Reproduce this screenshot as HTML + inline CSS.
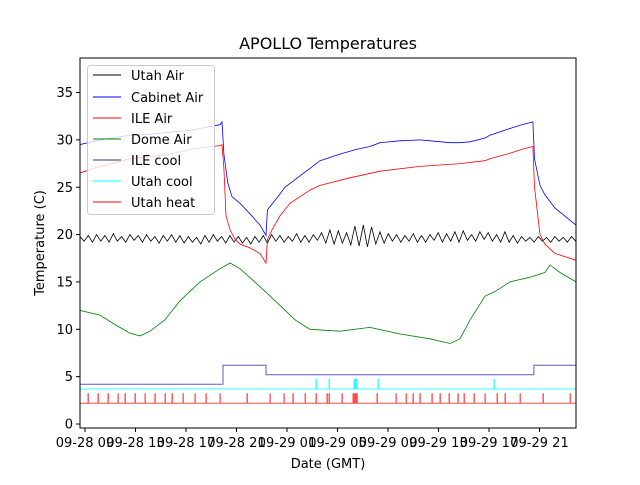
<!DOCTYPE html>
<html><head><meta charset="utf-8"><style>
body{margin:0;background:#fff}
svg text{font-family:"DejaVu Sans","Liberation Sans",sans-serif;fill:#000}
</style></head><body>
<svg id="c" width="640" height="480"></svg>
<script>
const xTickHours=[9,13,17,21,25,29,33,37,41,45];
const xTickLabels=["09-28 09","09-28 13","09-28 17","09-28 21","09-29 01","09-29 05","09-29 09","09-29 13","09-29 17","09-29 21"];
const yTicks=[0,5,10,15,20,25,30,35];
const cabinetT=[8.6,10.19,12.56,14.15,17.32,19.69,19.85,20.0,20.3,20.64,21.28,22.07,22.86,23.34,23.45,24.45,24.84,25.63,26.82,27.61,29.2,30.5,31.57,32.37,33.95,35.53,36.33,37.91,38.7,39.5,40.68,41.08,42.66,43.6,44.48,44.6,45.04,45.43,46.23,47.89];
const cabinetV=[29.5,30.0,30.5,30.6,31.0,31.6,31.9,28.5,25.5,24.0,23.3,22.2,21.0,19.9,22.6,24.3,25.0,25.8,27.0,27.8,28.5,29.0,29.3,29.7,29.9,30.0,29.9,29.7,29.7,29.8,30.2,30.5,31.2,31.6,31.9,28.0,25.2,24.2,22.8,21.0];
const ileT=[8.6,10.19,12.56,15.34,17.32,19.69,19.85,20.0,20.17,20.49,20.88,21.28,22.07,22.86,23.34,23.45,23.81,24.45,25.24,26.82,27.61,29.99,32.37,35.53,38.7,40.68,41.08,42.66,43.6,44.48,44.6,45.04,45.43,46.23,47.89];
const ileV=[26.5,27.2,28.0,28.4,29.0,29.4,29.5,27.0,22.0,20.5,19.5,19.0,18.6,18.0,17.0,19.5,20.5,22.0,23.3,24.7,25.2,26.0,26.7,27.2,27.5,27.8,28.0,28.6,29.0,29.3,25.0,20.0,19.0,18.0,17.3];
const utahStart=8.6, utahStep=0.33;
const utahV=[19.8,19.3,19.9,19.2,20.0,19.3,19.9,19.2,20.1,19.3,19.8,19.2,20.0,19.4,19.9,19.2,20.0,19.3,19.8,19.1,19.9,19.3,20.0,19.2,19.9,19.1,19.8,19.2,19.7,19.0,19.9,19.2,20.0,19.3,19.8,19.1,19.9,19.2,19.8,19.1,19.7,19.0,19.8,19.2,19.9,19.1,20.0,19.3,19.9,19.2,19.8,19.3,20.1,19.2,19.9,19.2,20.0,19.4,20.2,19.1,20.5,19.0,20.4,19.1,20.2,18.9,20.9,18.8,21.0,18.7,20.8,19.0,20.3,19.1,20.1,19.3,20.0,19.2,19.9,19.3,20.1,19.2,19.9,19.2,20.0,19.4,20.2,19.2,20.1,19.3,20.3,19.2,20.4,19.4,20.0,19.3,20.3,19.5,20.2,19.3,20.0,19.2,20.3,19.2,19.9,19.1,19.8,19.3,19.7,19.2,19.8,19.3,19.7,19.2,19.8,19.3,19.7,19.2,19.8,19.3];
const domeT=[8.6,10.19,11.38,12.56,13.36,14.15,15.34,16.52,18.11,19.69,20.49,21.28,22.86,24.45,25.63,26.82,29.2,31.57,33.95,36.33,37.91,38.7,39.5,40.68,41.48,42.66,44.25,45.43,45.83,46.62,47.89];
const domeV=[12.0,11.5,10.5,9.6,9.3,9.8,11.0,13.0,15.0,16.4,17.0,16.4,14.5,12.5,11.0,10.0,9.8,10.2,9.5,9.0,8.5,9.0,11.0,13.5,14.0,15.0,15.5,16.0,16.8,16.0,15.0];
const iceT=[8.6,19.93,19.93,23.34,23.34,44.56,44.56,47.89];
const iceV=[4.2,4.2,6.2,6.2,5.2,5.2,6.2,6.2];
const coolBase=3.7, coolSpikeV=4.7;
const coolSpikes=[27.3,28.33,30.3,30.39,30.47,30.54,32.21,41.4];
const heatBase=2.2, heatSpikeV=3.2;
const heatSpikes=[9.24,10.03,10.82,11.61,12.17,12.96,13.75,14.54,15.34,15.89,16.76,17.71,18.58,19.69,21.83,23.65,24.76,25.47,26.43,27.3,28.17,28.33,29.36,30.23,30.31,30.39,30.47,30.54,32.13,33.63,34.43,34.98,35.53,36.48,37.12,37.83,38.54,39.02,39.81,40.68,41.64,42.27,43.46,45.28,47.42];
const L=80,R=576,T=58,B=428;
const X=h=>85+(h-9)*50.5/4;
const Y=v=>424-v*9.47;
const svg=document.getElementById('c');const NS="http://www.w3.org/2000/svg";
function el(t,a,p){const e=document.createElementNS(NS,t);for(const k in a)e.setAttribute(k,a[k]);(p||svg).appendChild(e);return e;}
const clip=el('clipPath',{id:'pc'});el('rect',{x:L,y:T,width:R-L,height:B-T},clip);
const g=el('g',{'clip-path':'url(#pc)'});


function line(ts,vs,col,name,op,w){
 const p=el('polyline',{points:ts.map((t,i)=>X(t).toFixed(1)+','+Y(vs[i]).toFixed(1)).join(' '),fill:'none',stroke:col,'stroke-width':w||0.8,'stroke-opacity':op||1},g);
 
 
}
function spikes(sp,base,top,col,name,op){
 const ts=[8.6],vs=[base];
 sp.forEach(s=>{ts.push(s,s,s+0.03,s+0.03);vs.push(base,top,top,base);});
 ts.push(47.89);vs.push(base);
 line(ts,vs,col,name,op,1);
}
spikes(heatSpikes,heatBase,heatSpikeV,'#ff0000','utah-heat-line',0.7);
spikes(coolSpikes,coolBase,coolSpikeV,'#00ffff','utah-cool-line',0.8);
line(iceT,iceV,'#3333aa','ile-cool-line',0.8,1);
line(domeT,domeV,'#008000','dome-air-line');
line(utahV.map((v,i)=>utahStart+i*utahStep),utahV,'#000000','utah-air-line');
line(ileT,ileV,'#ff0000','ile-air-line');
line(cabinetT,cabinetV,'#0000ff','cabinet-air-line');
const fr=el('rect',{x:L,y:T,width:R-L,height:B-T,fill:'none',stroke:'#000','stroke-width':1});


yTicks.forEach(v=>{
 el('line',{x1:L-4,x2:L,y1:Y(v),y2:Y(v),stroke:'#000'});
 const t=el('text',{x:L-7,y:Y(v)+4.5,'text-anchor':'end','font-size':13});t.textContent=v;
 
 
});
xTickHours.forEach((h,i)=>{
 el('line',{x1:X(h),x2:X(h),y1:B,y2:B+4,stroke:'#000'});
 const t=el('text',{x:X(h),y:B+19,'text-anchor':'middle','font-size':13});t.textContent=xTickLabels[i];
 
 
});
</script>
<svg width="640" height="480" style="position:absolute;left:0;top:0">
<text x="328" y="49" text-anchor="middle" font-size="16">APOLLO Temperatures</text>
<text x="328" y="468" text-anchor="middle" font-size="13">Date (GMT)</text>
<text transform="translate(44,243) rotate(-90)" text-anchor="middle" font-size="13">Temperature (C)</text>
<g>
<rect x="87.5" y="65.5" width="127" height="149" rx="3" fill="#fff" fill-opacity="0.8" stroke="#ccc"/>
<g><line x1="93" x2="121" y1="75" y2="75" stroke="#000"/><text x="131" y="80" font-size="13">Utah Air</text></g>
<g><line x1="93" x2="121" y1="97" y2="97" stroke="#00f"/><text x="131" y="102" font-size="13">Cabinet Air</text></g>
<g><line x1="93" x2="121" y1="118" y2="118" stroke="#f00"/><text x="131" y="123" font-size="13">ILE Air</text></g>
<g><line x1="93" x2="121" y1="139" y2="139" stroke="#008000"/><text x="131" y="144" font-size="13">Dome Air</text></g>
<g><line x1="93" x2="121" y1="160" y2="160" stroke="#333399"/><text x="131" y="165" font-size="13">ILE cool</text></g>
<g><line x1="93" x2="121" y1="181" y2="181" stroke="#0ff"/><text x="131" y="186" font-size="13">Utah cool</text></g>
<g><line x1="93" x2="121" y1="202" y2="202" stroke="#f00"/><text x="131" y="207" font-size="13">Utah heat</text></g>
</g>
</svg>
</body></html>
